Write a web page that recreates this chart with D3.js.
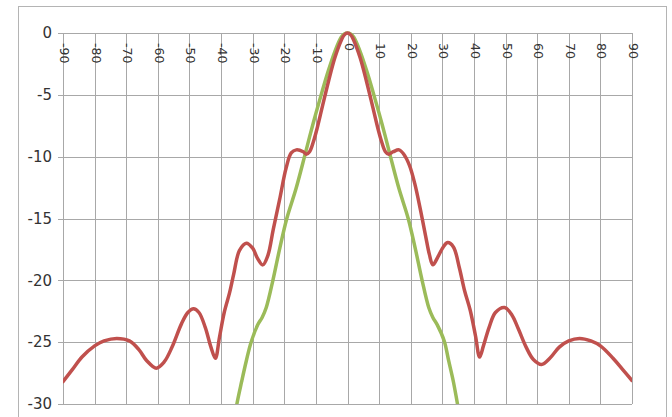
<!DOCTYPE html>
<html>
<head>
<meta charset="utf-8">
<script src="https://cdn.jsdelivr.net/npm/d3@7"></script>
<style>
  html, body { margin: 0; padding: 0; background: #fff; }
  svg { display: block; }
</style>
</head>
<body>
<svg id="chart" width="672" height="417"></svg>
<script>
// ---- data ----
const xTicks = [-90, -80, -70, -60, -50, -40, -30, -20, -10, 0, 10, 20, 30, 40, 50, 60, 70, 80, 90];
const yTicks = [0, -5, -10, -15, -20, -25, -30];

const redAngles = [-90, -87, -84, -80, -77, -73, -69, -66, -63.5, -60.5, -58, -55.5, -52.5, -50.5, -48.7, -47, -45, -43.2, -41.8, -40.5, -39, -37.3, -36, -34.2, -32, -30, -28.5, -26.8, -25.2, -23.5, -21.5, -19.4, -17.8, -16.2, -14, -13, -12, -10.8, -9.5, -8, -6, -4, -2, -1, 0,
  1, 2, 4, 6, 8, 9.5, 10.8, 12, 13, 14.5, 16.3, 17.8, 19.6, 21.3, 23, 24.7, 25.9, 27, 28.6, 30.3, 31.7, 33.5, 35.4, 37, 38.8, 40.5, 41.8, 43, 44.8, 46.8, 49.7, 52, 54, 56.5, 58.8, 61.4, 64, 67, 70, 73.4, 77, 80, 84, 87, 90];
const redValues = [-28.2, -27.2, -26.2, -25.3, -24.9, -24.7, -24.9, -25.6, -26.5, -27.1, -26.6, -25.4, -23.5, -22.6, -22.3, -22.6, -23.8, -25.4, -26.3, -24.6, -22.6, -21.0, -19.5, -17.6, -17.0, -17.4, -18.2, -18.75, -18.0, -15.9, -13.5, -10.9, -9.7, -9.45, -9.6, -9.8, -9.6, -8.8, -7.6, -6.0, -3.9, -2.0, -0.6, -0.15, 0,
  -0.15, -0.6, -2.0, -3.9, -6.0, -7.6, -8.8, -9.6, -9.8, -9.6, -9.45, -9.8, -10.7, -12.2, -14.2, -16.4, -17.9, -18.75, -18.1, -17.3, -16.95, -17.3, -19.0, -20.8, -22.4, -24.5, -26.2, -25.3, -23.8, -22.6, -22.2, -22.8, -23.9, -25.4, -26.4, -26.8, -26.3, -25.4, -24.9, -24.7, -24.9, -25.3, -26.3, -27.2, -28.1];

const greenAngles = [-37, -35, -33.5, -32, -30.5, -28.4, -27, -25.7, -23.6, -21.5, -19.2, -16.3, -13.6, -12, -10, -8, -6, -4, -2, -1, 0,
  1, 2, 4, 6, 8, 10, 12, 13.6, 16.3, 19.2, 21.5, 23.6, 25.7, 27, 28.4, 30.6, 32, 33.5, 34.8, 37];
const greenValues = [-33, -30, -28.2, -26.5, -25, -23.6, -23.0, -22.2, -20, -17.5, -15, -12.6, -10, -8.4, -6.5, -4.7, -3.0, -1.5, -0.35, -0.08, 0,
  -0.08, -0.35, -1.5, -3.0, -4.7, -6.5, -8.4, -10, -12.6, -15, -17.5, -20, -22.2, -23.0, -23.6, -24.9, -26.5, -28.2, -30, -33];

// ---- layout ----
const svg = d3.select("#chart");
const pLeft = 63, pRight = 632, pTop = 33, pBottom = 404;
const x = d3.scaleLinear().domain([-90, 90]).range([pLeft, pRight]);
const y = d3.scaleLinear().domain([-30, 0]).range([pBottom, pTop]);

// outer chart border
svg.append("rect")
  .attr("x", 18.5).attr("y", 6.5)
  .attr("width", 648).attr("height", 430)
  .attr("fill", "none").attr("stroke", "#b4b4b4").attr("stroke-width", 1);

const gridColor = "#a8a8a8";
const font = "'DejaVu Sans', sans-serif";
const fmt = d => String(d);

// y axis with horizontal gridlines (extend 5px left of plot as tick marks)
const yAxis = svg.append("g")
  .attr("transform", `translate(${pRight},0)`)
  .call(d3.axisLeft(y).tickValues(yTicks).tickSize(pRight - pLeft + 5).tickPadding(6).tickFormat(fmt));
yAxis.select(".domain").remove();
yAxis.selectAll("line").attr("stroke", gridColor).attr("shape-rendering", "crispEdges");
yAxis.selectAll("text").attr("fill", "#333").style("font-family", font).style("font-size", "15px");

// x axis: vertical gridlines with rotated labels at top inside plot
const xAxis = svg.append("g")
  .attr("transform", `translate(0,${pTop})`)
  .call(d3.axisBottom(x).tickValues(xTicks).tickSize(pBottom - pTop).tickFormat(fmt));
xAxis.select(".domain").remove();
xAxis.selectAll("line").attr("stroke", gridColor).attr("shape-rendering", "crispEdges");
xAxis.selectAll("text")
  .attr("y", null).attr("dy", null)
  .attr("transform", "translate(1,10) rotate(90)")
  .attr("text-anchor", "start")
  .attr("dominant-baseline", "central")
  .attr("fill", "#333")
  .style("font-family", font).style("font-size", "12.5px");

// clip for the series
svg.append("clipPath").attr("id", "plotclip")
  .append("rect").attr("x", pLeft).attr("y", pTop - 5).attr("width", pRight - pLeft).attr("height", pBottom - pTop + 5);

const line = d3.line()
  .x(d => x(d[0]))
  .y(d => y(d[1]))
  .curve(d3.curveCatmullRom.alpha(0.5));

const series = [
  { angles: greenAngles, values: greenValues, color: "#9bbb59" },
  { angles: redAngles, values: redValues, color: "#c0504d" }
];
const lines = svg.append("g").attr("clip-path", "url(#plotclip)");
series.forEach(s => {
  lines.append("path")
    .datum(s.angles.map((a, i) => [a, s.values[i]]))
    .attr("fill", "none")
    .attr("stroke", s.color)
    .attr("stroke-width", 3.5)
    .attr("stroke-linejoin", "round")
    .attr("stroke-linecap", "round")
    .attr("d", line);
});
</script>
</body>
</html>
